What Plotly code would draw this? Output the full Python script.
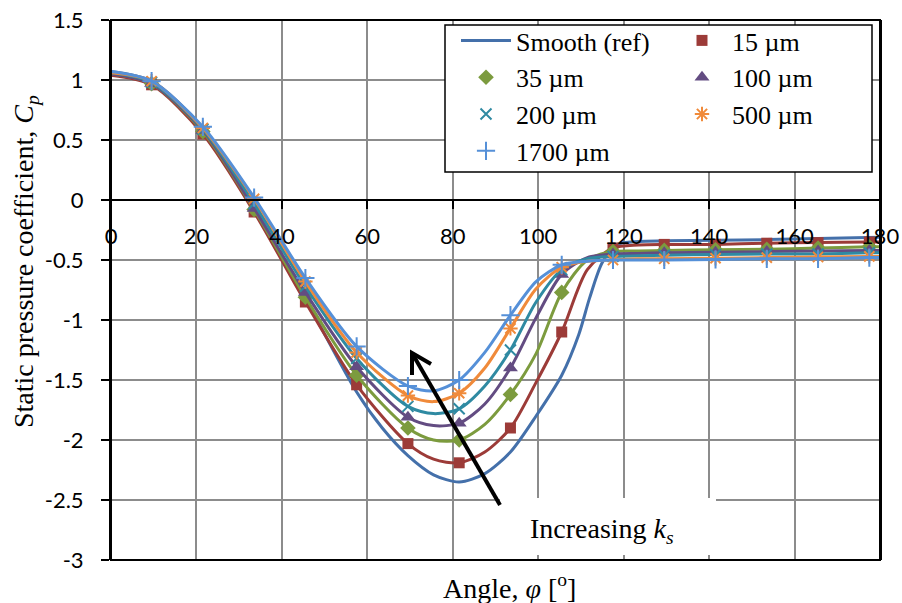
import plotly.graph_objects as go

# ---------------- data ----------------
MARK_X = [9.5, 21.5, 33.5, 45.5, 57.5, 69.5, 81.5, 93.5, 105.5, 117.5, 129.5, 141.5, 153.5, 165.5, 177.5]
LINE_X = [0, 9.5, 21.5, 33.5, 45.5, 57.5, 69.5, 75.5, 81.5, 87.5, 93.5, 99.5, 105.5, 111.5,
          117.5, 123.5, 129.5, 141.5, 153.5, 165.5, 177.5, 180]

REF_X = [0, 9.5, 21.5, 33.5, 45.5, 57.5, 63.5, 69.5, 75.5, 81.5, 87.5, 93.5, 99.5, 105.5, 109.5,
         112, 115, 118.5, 123.5, 129.5, 141.5, 153.5, 165.5, 180]
REF_Y = [1.07, 0.99, 0.60, -0.06, -0.82, -1.60, -1.90, -2.13, -2.29, -2.35, -2.28, -2.10, -1.80,
         -1.46, -1.12, -0.82, -0.52, -0.37, -0.345, -0.34, -0.335, -0.33, -0.32, -0.31]

MARK_15 = [0.96, 0.55, -0.10, -0.85, -1.54, -2.03, -2.19, -1.90, -1.10, -0.40, -0.37, -0.37, -0.36, -0.355, -0.35]
MARK_35 = [0.97, 0.57, -0.08, -0.81, -1.46, -1.90, -2.00, -1.62, -0.77, -0.43, -0.42, -0.415, -0.41, -0.40, -0.39]
MARK_100 = [0.97, 0.58, -0.07, -0.77, -1.39, -1.81, -1.86, -1.40, -0.62, -0.45, -0.44, -0.435, -0.43, -0.425, -0.42]
MARK_200 = [0.98, 0.59, -0.03, -0.72, -1.32, -1.72, -1.74, -1.25, -0.58, -0.47, -0.46, -0.455, -0.45, -0.45, -0.44]
MARK_500 = [0.99, 0.60, 0.01, -0.68, -1.27, -1.63, -1.61, -1.07, -0.56, -0.50, -0.49, -0.485, -0.48, -0.475, -0.47]
MARK_1700 = [0.99, 0.61, 0.02, -0.65, -1.22, -1.55, -1.50, -0.96, -0.54, -0.50, -0.50, -0.495, -0.49, -0.49, -0.48]

LINE_15 = [1.04, 0.96, 0.55, -0.10, -0.85, -1.54, -2.03, -2.16, -2.19, -2.10, -1.90, -1.52, -1.10, -0.58,
           -0.40, -0.375, -0.37, -0.37, -0.36, -0.355, -0.35, -0.35]
LINE_35 = [1.05, 0.97, 0.57, -0.08, -0.81, -1.46, -1.90, -2.00, -2.00, -1.87, -1.62, -1.28, -0.77, -0.50,
           -0.43, -0.425, -0.42, -0.415, -0.41, -0.40, -0.39, -0.39]
LINE_100 = [1.05, 0.97, 0.58, -0.07, -0.77, -1.39, -1.81, -1.88, -1.86, -1.70, -1.40, -0.98, -0.62, -0.48,
            -0.45, -0.445, -0.44, -0.435, -0.43, -0.425, -0.42, -0.42]
LINE_200 = [1.06, 0.98, 0.59, -0.03, -0.72, -1.32, -1.72, -1.78, -1.74, -1.55, -1.25, -0.85, -0.58, -0.49,
            -0.47, -0.465, -0.46, -0.455, -0.45, -0.45, -0.44, -0.44]
LINE_500 = [1.06, 0.99, 0.60, 0.01, -0.68, -1.27, -1.63, -1.68, -1.61, -1.40, -1.07, -0.74, -0.56, -0.51,
            -0.50, -0.49, -0.49, -0.485, -0.48, -0.475, -0.47, -0.47]
LINE_1700 = [1.07, 0.99, 0.61, 0.02, -0.65, -1.22, -1.55, -1.59, -1.50, -1.27, -0.96, -0.68, -0.54, -0.51,
             -0.50, -0.50, -0.50, -0.495, -0.49, -0.49, -0.48, -0.48]

SERIES_NAMES = ["Smooth (ref)", "15 µm", "35 µm", "100 µm", "200 µm", "500 µm", "1700 µm"]
X_TICKS = [0, 20, 40, 60, 80, 100, 120, 140, 160, 180]
X_TICK_LABELS = ["0", "20", "40", "60", "80", "100", "120", "140", "160", "180"]
Y_TICKS = [-3, -2.5, -2, -1.5, -1, -0.5, 0, 0.5, 1, 1.5]
Y_TICK_LABELS = ["-3", "-2.5", "-2", "-1.5", "-1", "-0.5", "0", "0.5", "1", "1.5"]

# ---------------- geometry (screen pixels) ----------------
W, H = 902, 603
SL, SR, ST, SB = 111, 880, 20, 560          # plot area in screenshot pixels
XMIN, XMAX, YMIN, YMAX = 0, 180, -3, 1.5


def dx(px):
    return XMIN + (px - SL) / (SR - SL) * (XMAX - XMIN)


def dy(py):
    return YMAX - (py - ST) / (SB - ST) * (YMAX - YMIN)


def fx(px):
    return (px - SL) / (SR - SL)


def fy(py):
    return (SB - py) / (SB - ST)


SERIF = "Liberation Serif"
SANS = "Lato"
GRID = "#8c8c8c"

C_REF = "#4470AA"
series = [
    ("15 µm", MARK_15, LINE_15, "#9C3B38", "square", 11, "legend2"),
    ("35 µm", MARK_35, LINE_35, "#7C9B3E", "diamond", 12, "legend"),
    ("100 µm", MARK_100, LINE_100, "#634C82", "triangle-up", 13, "legend2"),
    ("200 µm", MARK_200, LINE_200, "#2F8AA2", "x-thin", 11, "legend"),
    ("500 µm", MARK_500, LINE_500, "#F08A3A", "asterisk", 12, "legend2"),
    ("1700 µm", MARK_1700, LINE_1700, "#5590D8", "cross-thin", 13, "legend"),
]

fig = go.Figure()

fig.add_trace(go.Scatter(
    x=REF_X, y=REF_Y, mode="lines", name=SERIES_NAMES[0],
    line=dict(color=C_REF, width=3, shape="spline", smoothing=0.8),
    legend="legend",
))

for name, my, ly, col, sym, size, leg in series:
    fig.add_trace(go.Scatter(
        x=LINE_X, y=ly, mode="lines", showlegend=False,
        line=dict(color=col, width=3, shape="spline", smoothing=0.8),
    ))
    thin = sym in ("x-thin", "asterisk", "cross-thin")
    fig.add_trace(go.Scatter(
        x=MARK_X, y=my, mode="markers", name=name, legend=leg,
        marker=dict(symbol=sym, size=size, color=col,
                    line=dict(color=col, width=2 if thin else 0)),
    ))

# ---------------- shapes ----------------
shapes = []
# plot-area frame
shapes.append(dict(type="rect", xref="paper", yref="paper", x0=0, x1=1, y0=0, y1=1,
                   line=dict(color="black", width=2), layer="above"))
# legend box
shapes.append(dict(type="rect", xref="x", yref="y", x0=dx(445), x1=dx(872), y0=dy(25), y1=dy(172),
                   fillcolor="white", line=dict(color="black", width=1.5), layer="above"))
# text box
shapes.append(dict(type="rect", xref="x", yref="y", x0=dx(500), x1=dx(716), y0=dy(498), y1=dy(555),
                   fillcolor="white", line=dict(width=0), layer="above"))
# arrow
head = (412, 353)
tail = (500, 505)
arm1 = (412, 375)
arm2 = (431, 364)
shapes.append(dict(type="line", xref="x", yref="y", x0=dx(tail[0]), y0=dy(tail[1]),
                   x1=dx(head[0]), y1=dy(head[1]), line=dict(color="black", width=4), layer="above"))
shapes.append(dict(type="path", xref="x", yref="y",
                   path=f"M {dx(arm1[0])},{dy(arm1[1])} L {dx(head[0])},{dy(head[1])} L {dx(arm2[0])},{dy(arm2[1])}",
                   line=dict(color="black", width=4), layer="above"))

annotations = [
    dict(text="Increasing <i>k<sub>s</sub></i>", xref="x", yref="y", x=dx(602), y=dy(530),
         showarrow=False, font=dict(family=SERIF, size=28, color="black"), xanchor="center", yanchor="middle"),
    dict(text="Angle, <i>φ</i> [<sup>o</sup>]", xref="paper", yref="paper", x=fx(509), y=fy(586),
         showarrow=False, font=dict(family=SERIF, size=28, color="black"), xanchor="center", yanchor="middle"),
    dict(text="Static pressure coefficient, <i>C<sub>p</sub></i>", xref="paper", yref="paper",
         x=fx(25), y=fy(262), textangle=-90,
         showarrow=False, font=dict(family=SERIF, size=28, color="black"), xanchor="center", yanchor="middle"),
]

fig.update_layout(
    width=W, height=H,
    margin=dict(l=SL, r=W - SR, t=ST, b=H - SB, pad=0, autoexpand=False),
    paper_bgcolor="white", plot_bgcolor="white",
    shapes=shapes, annotations=annotations,
    xaxis=dict(range=[XMIN, XMAX], tickvals=X_TICKS, ticktext=X_TICK_LABELS, automargin=False,
               showgrid=True, gridcolor=GRID, gridwidth=1.5, zeroline=False,
               showline=True, linecolor="black", linewidth=2,
               anchor="free", position=fy(200),
               ticks="outside", ticklen=8, tickwidth=1.5, tickcolor="black",
               tickfont=dict(family=SANS, size=22, color="black"), ticklabelstandoff=9),
    xaxis2=dict(range=[XMIN, XMAX], tickvals=X_TICKS, overlaying="x", anchor="y", side="bottom",
                automargin=False,
                showgrid=False, zeroline=False, showline=True, linecolor="black", linewidth=2,
                ticks="inside", ticklen=4, tickwidth=1.5, tickcolor="black", showticklabels=False),
    yaxis=dict(range=[YMIN, YMAX], tickvals=Y_TICKS, ticktext=Y_TICK_LABELS, automargin=False,
               showgrid=True, gridcolor=GRID, gridwidth=1.5, zeroline=False,
               showline=True, mirror=True, linecolor="black", linewidth=2,
               ticks="outside", ticklen=8, tickwidth=1.5, tickcolor="black",
               tickfont=dict(family=SANS, size=22, color="black"), ticklabelstandoff=13),
    legend=dict(x=fx(456), y=fy(17), xanchor="left", yanchor="top", bgcolor="rgba(0,0,0,0)",
                borderwidth=0, font=dict(family=SERIF, size=26, color="black"), itemwidth=50,
                tracegroupgap=0),
    legend2=dict(x=fx(672), y=fy(17), xanchor="left", yanchor="top", bgcolor="rgba(0,0,0,0)",
                 borderwidth=0, font=dict(family=SERIF, size=26, color="black"), itemwidth=50,
                 tracegroupgap=0),
)

fig.write_html("out.html", config={"displayModeBar": False},
               post_script="document.body.style.margin='0px';")
